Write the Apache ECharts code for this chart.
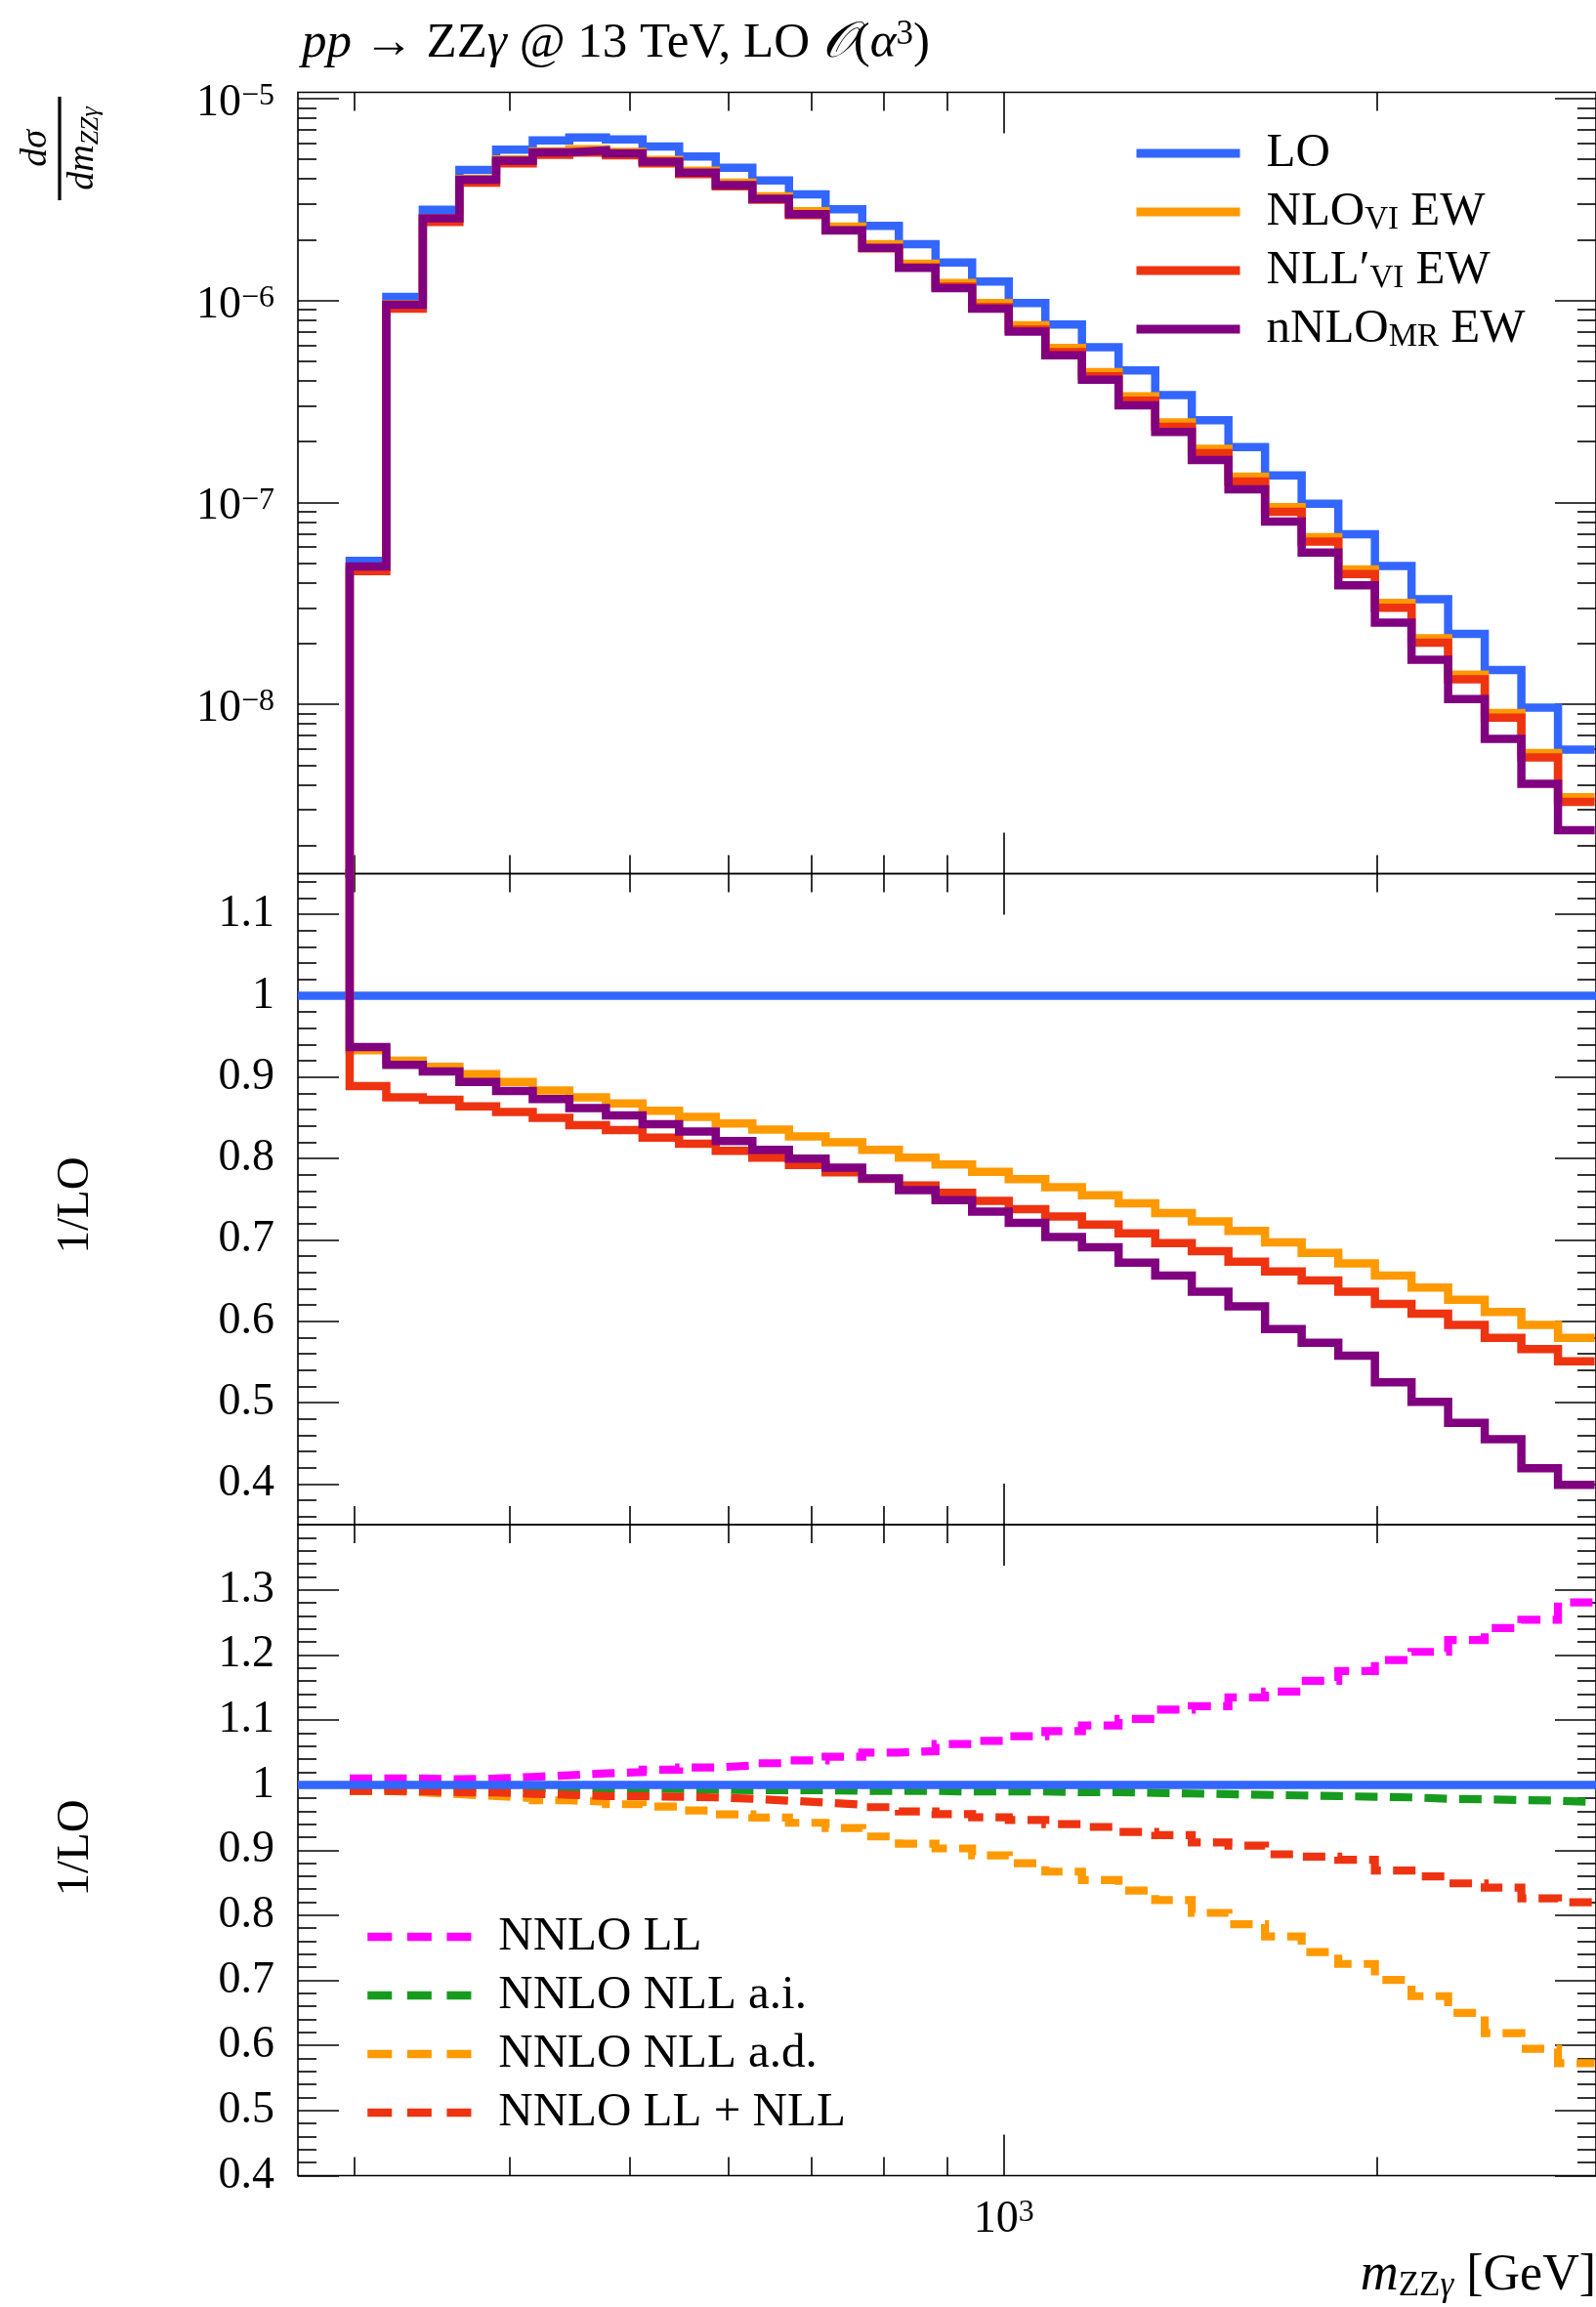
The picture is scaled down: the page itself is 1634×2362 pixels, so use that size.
<!DOCTYPE html>
<html>
<head>
<meta charset="utf-8">
<script src="https://cdn.jsdelivr.net/npm/echarts@6/dist/echarts.min.js"></script>
<style>
html,body{margin:0;padding:0;background:#fff;}
#chart{width:1634px;height:2362px;}
</style>
</head>
<body>
<div id="chart"></div>
<script>
// ---------------- data ----------------
const binEdges = [297.2, 318.1, 340.4, 364.3, 390.0, 417.4, 446.7, 478.1, 511.7, 547.6, 586.1, 627.3, 671.4, 718.6, 769.1, 823.2, 881.1, 943.0, 1009.3, 1080.2, 1156.1, 1237.4, 1324.4, 1417.4, 1517.1, 1623.7, 1737.8, 1860.0, 1990.7, 2130.6, 2280.3, 2440.6, 2612.2, 2795.8, 2992.3];

const loXsec = [5.13e-8, 1.04e-6, 2.81e-6, 4.43e-6, 5.58e-6, 6.20e-6, 6.42e-6, 6.27e-6, 5.78e-6, 5.16e-6, 4.54e-6, 3.93e-6, 3.35e-6, 2.83e-6, 2.34e-6, 1.90e-6, 1.54e-6, 1.24e-6, 9.72e-7, 7.61e-7, 5.86e-7, 4.50e-7, 3.40e-7, 2.55e-7, 1.88e-7, 1.36e-7, 9.84e-8, 6.95e-8, 4.84e-8, 3.31e-8, 2.23e-8, 1.48e-8, 9.63e-9, 5.97e-9];
const nloXsec = [4.79e-8, 9.57e-7, 2.56e-6, 4.00e-6, 4.99e-6, 5.48e-6, 5.62e-6, 5.44e-6, 4.96e-6, 4.39e-6, 3.83e-6, 3.28e-6, 2.77e-6, 2.32e-6, 1.90e-6, 1.52e-6, 1.22e-6, 9.72e-7, 7.53e-7, 5.82e-7, 4.42e-7, 3.35e-7, 2.49e-7, 1.84e-7, 1.34e-7, 9.48e-8, 6.73e-8, 4.66e-8, 3.18e-8, 2.12e-8, 1.40e-8, 9.05e-9, 5.73e-9, 3.46e-9];
const nllXsec = [4.56e-8, 9.10e-7, 2.45e-6, 3.83e-6, 4.78e-6, 5.27e-6, 5.40e-6, 5.24e-6, 4.77e-6, 4.22e-6, 3.68e-6, 3.15e-6, 2.65e-6, 2.22e-6, 1.81e-6, 1.46e-6, 1.17e-6, 9.27e-7, 7.17e-7, 5.55e-7, 4.21e-7, 3.19e-7, 2.37e-7, 1.75e-7, 1.27e-7, 8.99e-8, 6.40e-8, 4.42e-8, 3.01e-8, 2.02e-8, 1.33e-8, 8.58e-9, 5.45e-9, 3.29e-9];
const nnloMrXsec = [4.81e-8, 9.52e-7, 2.55e-6, 3.96e-6, 4.93e-6, 5.41e-6, 5.53e-6, 5.35e-6, 4.87e-6, 4.30e-6, 3.73e-6, 3.19e-6, 2.68e-6, 2.23e-6, 1.82e-6, 1.45e-6, 1.15e-6, 9.11e-7, 7.01e-7, 5.35e-7, 4.05e-7, 3.02e-7, 2.23e-7, 1.62e-7, 1.16e-7, 8.03e-8, 5.64e-8, 3.88e-8, 2.54e-8, 1.66e-8, 1.06e-8, 6.74e-9, 4.04e-9, 2.38e-9];

const nloRatio = [0.933, 0.920, 0.9125, 0.9036, 0.894, 0.8836, 0.875, 0.8676, 0.8587, 0.8512, 0.843, 0.8355, 0.827, 0.820, 0.8105, 0.8009, 0.7925, 0.7836, 0.7746, 0.7647, 0.7547, 0.7448, 0.7328, 0.7228, 0.7109, 0.6970, 0.6840, 0.6711, 0.6562, 0.6413, 0.6263, 0.6114, 0.5954, 0.5796];
const nllRatio = [0.889, 0.875, 0.872, 0.864, 0.857, 0.850, 0.841, 0.835, 0.8255, 0.818, 0.8095, 0.801, 0.792, 0.783, 0.775, 0.7667, 0.7577, 0.7478, 0.7378, 0.7288, 0.7189, 0.7079, 0.6960, 0.6861, 0.6731, 0.6611, 0.6502, 0.6363, 0.6213, 0.6093, 0.5954, 0.5796, 0.5657, 0.5507];
const nnloMrRatio = [0.937, 0.915, 0.907, 0.894, 0.883, 0.873, 0.862, 0.853, 0.842, 0.833, 0.8215, 0.8105, 0.7997, 0.7887, 0.7756, 0.761, 0.7487, 0.7348, 0.7209, 0.7034, 0.6910, 0.6721, 0.6562, 0.6363, 0.6183, 0.5905, 0.5736, 0.5576, 0.5248, 0.5009, 0.4750, 0.4551, 0.4193, 0.3989];

const nnloLL = [1.010, 1.010, 1.009, 1.010, 1.0125, 1.015, 1.018, 1.020, 1.0235, 1.027, 1.030, 1.0335, 1.0377, 1.0435, 1.050, 1.052, 1.063, 1.068, 1.075, 1.083, 1.0916, 1.1015, 1.116, 1.121, 1.1345, 1.1436, 1.160, 1.175, 1.192, 1.2046, 1.2228, 1.241, 1.254, 1.2805];
const nnloNllAI = [0.995, 0.995, 0.995, 0.995, 0.995, 0.995, 0.995, 0.995, 0.994, 0.993, 0.992, 0.992, 0.992, 0.991, 0.991, 0.991, 0.990, 0.990, 0.990, 0.989, 0.989, 0.988, 0.987, 0.986, 0.985, 0.984, 0.983, 0.982, 0.981, 0.979, 0.978, 0.977, 0.976, 0.974];
const nnloNllAD = [0.991, 0.9886, 0.986, 0.983, 0.980, 0.9765, 0.9745, 0.9705, 0.967, 0.961, 0.955, 0.950, 0.942, 0.934, 0.921, 0.910, 0.9026, 0.892, 0.880, 0.867, 0.854, 0.838, 0.8234, 0.8036, 0.7863, 0.7673, 0.7434, 0.7252, 0.7005, 0.6757, 0.650, 0.6188, 0.595, 0.5726];
const nnloLLNLL = [0.991, 0.9906, 0.989, 0.9886, 0.9866, 0.985, 0.983, 0.983, 0.982, 0.981, 0.979, 0.976, 0.973, 0.970, 0.966, 0.9596, 0.9554, 0.9505, 0.9464, 0.940, 0.9356, 0.928, 0.923, 0.9117, 0.9068, 0.8936, 0.890, 0.8853, 0.8688, 0.8597, 0.849, 0.8424, 0.826, 0.820];

// tick positions / labels
const xTickMajor = [1000];
const xTickMinor = [300, 400, 500, 600, 700, 800, 900, 2000];
const xTickLabels = [1000];
const topYMajor = [1e-8, 1e-7, 1e-6, 1e-5];
const topYLabels = [1e-8, 1e-7, 1e-6, 1e-5];
const midYMajor = [0.4, 0.5, 0.6, 0.7, 0.8, 0.9, 1.0, 1.1];
const midYLabels = [0.4, 0.5, 0.6, 0.7, 0.8, 0.9, 1.0, 1.1];
const botYMajor = [0.4, 0.5, 0.6, 0.7, 0.8, 0.9, 1.0, 1.1, 1.2, 1.3];
const botYLabels = [0.4, 0.5, 0.6, 0.7, 0.8, 0.9, 1.0, 1.1, 1.2, 1.3];

// ---------------- helpers ----------------
function logMinor(lo, hi) {
  const out = [];
  for (let e = -10; e <= -4; e++) for (let m = 2; m <= 9; m++) {
    const v = m * Math.pow(10, e);
    if (v > lo && v < hi) out.push(v);
  }
  return out;
}
function linMinor(lo, hi) {
  const out = [];
  for (let k = Math.round(lo * 50); k <= Math.round(hi * 50); k++) {
    if (k % 5 !== 0) out.push(+(k / 50).toFixed(2));
  }
  return out;
}

const SERIF = '"Liberation Serif","DejaVu Serif",serif';
const X_MIN = 270, X_MAX = 3000;
const GRID_LEFT = 305, GRID_WIDTH = 1334;
const panels = [
  {top: 94.5, height: 800, type: 'log', min: 1.449e-9, max: 1.074e-5},
  {top: 894.5, height: 666.5, type: 'value', min: 0.35, max: 1.15},
  {top: 1561, height: 666.5, type: 'value', min: 0.4, max: 1.4}
];
const TICK_MAJ = 42, TICK_MIN = 19;
const tickLine = {color: '#000', width: 1.6};

const C_LO = '#3366ff', C_NLO = '#ff9900', C_NLL = '#ee3311', C_MR = '#800080',
      C_LL = '#ff00ff', C_AI = '#169b1e', C_AD = '#ff9900', C_LLNLL = '#ee3311';
const DASH = [23, 12.5];

const labelRich = {
  b: {fontFamily: SERIF, fontSize: 46, lineHeight: 46, color: '#000'},
  s: {fontFamily: SERIF, fontSize: 32, lineHeight: 18, verticalAlign: 'top', color: '#000'}
};

function xAxesFor(gi, withLabel) {
  const base = {type: 'log', logBase: 10, gridIndex: gi, min: X_MIN, max: X_MAX,
    axisLine: {show: false}, splitLine: {show: false}, axisLabel: {show: false}};
  const out = [];
  ['bottom', 'top'].forEach(pos => {
    const major = Object.assign({}, base, {position: pos,
      axisTick: {show: true, inside: true, length: TICK_MAJ, customValues: xTickMajor, lineStyle: tickLine}});
    if (withLabel && pos === 'bottom') {
      major.axisLabel = {show: true, customValues: xTickLabels, margin: 22,
        formatter: v => '{b|10}{s|' + Math.round(Math.log10(v)) + '}', rich: labelRich};
    }
    out.push(major);
    out.push(Object.assign({}, base, {position: pos,
      axisTick: {show: true, inside: true, length: TICK_MIN, customValues: xTickMinor, lineStyle: tickLine}}));
  });
  return out;
}

function yAxesFor(gi, major, minor, labels, fmt, padding) {
  const p = panels[gi];
  const base = {type: p.type, gridIndex: gi, min: p.min, max: p.max,
    axisLine: {show: false}, splitLine: {show: false}, axisLabel: {show: false}};
  if (p.type === 'log') base.logBase = 10;
  const out = [];
  ['left', 'right'].forEach(pos => {
    const ma = Object.assign({}, base, {position: pos,
      axisTick: {show: true, inside: true, length: TICK_MAJ, customValues: major, lineStyle: tickLine}});
    if (pos === 'left') {
      ma.axisLabel = {show: true, customValues: labels, margin: 24, formatter: fmt,
        fontFamily: SERIF, fontSize: 46, color: '#000', rich: labelRich, padding: padding};
    }
    out.push(ma);
    out.push(Object.assign({}, base, {position: pos,
      axisTick: {show: true, inside: true, length: TICK_MIN, customValues: minor, lineStyle: tickLine}}));
  });
  return out;
}

function stepPts(vals, lead) {
  const pts = [];
  if (lead !== undefined) pts.push([binEdges[0], lead]);
  for (let i = 0; i < vals.length; i++) {
    pts.push([binEdges[i], vals[i]]);
    pts.push([binEdges[i + 1], vals[i]]);
  }
  return pts;
}
function lineSeries(name, color, gi, data, dashed, z) {
  return {type: 'line', name: name, xAxisIndex: gi * 4, yAxisIndex: gi * 4, data: data,
    showSymbol: false, symbol: 'none', silent: true, animation: false, clip: true, z: z,
    lineStyle: {color: color, width: dashed ? 8.2 : 8.5, type: dashed ? DASH : 'solid', cap: 'butt', join: 'miter'},
    itemStyle: {color: color}};
}

const fmtRatio = v => String(Math.round(v * 10) / 10);
const fmtPow = v => '{b|10}{s|−' + Math.round(-Math.log10(v)) + '}';

const xAxis = [].concat(xAxesFor(0, false), xAxesFor(1, false), xAxesFor(2, true));
const yAxis = [].concat(
  yAxesFor(0, topYMajor, logMinor(panels[0].min, panels[0].max), topYLabels, fmtPow, [10, 0, 0, 0]),
  yAxesFor(1, midYMajor, linMinor(0.35, 1.15), midYLabels, fmtRatio, 0),
  yAxesFor(2, botYMajor, linMinor(0.4, 1.4), botYLabels, fmtRatio, 0)
);

const series = [
  // top panel
  lineSeries('LO', C_LO, 0, stepPts(loXsec, 1e-12), false, 2),
  lineSeries('NLO_VI EW', C_NLO, 0, stepPts(nloXsec, 1e-12), false, 3),
  lineSeries("NLL'_VI EW", C_NLL, 0, stepPts(nllXsec, 1e-12), false, 4),
  lineSeries('nNLO_MR EW', C_MR, 0, stepPts(nnloMrXsec, 1e-12), false, 5),
  // middle panel
  lineSeries('LO', C_LO, 1, [[X_MIN, 1], [X_MAX, 1]], false, 2),
  lineSeries('NLO_VI EW', C_NLO, 1, stepPts(nloRatio, 5), false, 3),
  lineSeries("NLL'_VI EW", C_NLL, 1, stepPts(nllRatio, 5), false, 4),
  lineSeries('nNLO_MR EW', C_MR, 1, stepPts(nnloMrRatio, 5), false, 5),
  // bottom panel
  lineSeries('NNLO LL', C_LL, 2, stepPts(nnloLL), true, 2),
  lineSeries('NNLO NLL a.i.', C_AI, 2, stepPts(nnloNllAI), true, 3),
  lineSeries('NNLO NLL a.d.', C_AD, 2, stepPts(nnloNllAD), true, 4),
  lineSeries('NNLO LL + NLL', C_LLNLL, 2, stepPts(nnloLLNLL), true, 5),
  lineSeries('LO', C_LO, 2, [[X_MIN, 1], [X_MAX, 1]], false, 6)
];

const legendNames = {
  'LO': 'LO',
  'NLO_VI EW': 'NLO{sub|VI} EW',
  "NLL'_VI EW": 'NLL′{sub|VI} EW',
  'nNLO_MR EW': 'nNLO{sub|MR} EW'
};
const legendText = {
  fontFamily: SERIF, fontSize: 49, color: '#000', lineHeight: 50, padding: [0, 0, 0, 22],
  rich: {sub: {fontFamily: SERIF, fontSize: 33, lineHeight: 22, verticalAlign: 'bottom', color: '#000'}}
};

const option = {
  animation: false,
  backgroundColor: '#fff',
  grid: panels.map(p => ({left: GRID_LEFT, top: p.top, width: GRID_WIDTH, height: p.height,
    show: true, borderColor: '#000', borderWidth: 1.6, backgroundColor: 'transparent', containLabel: false})),
  xAxis: xAxis,
  yAxis: yAxis,
  legend: [
    {orient: 'vertical', left: 1159, top: 132, padding: 0, itemWidth: 106, itemHeight: 20, itemGap: 10,
     selectedMode: false, data: ['LO', 'NLO_VI EW', "NLL'_VI EW", 'nNLO_MR EW'],
     formatter: n => legendNames[n], textStyle: legendText,
     lineStyle: {width: 9, type: 'solid', cap: 'butt'}, itemStyle: {color: 'rgba(0,0,0,0)', borderWidth: 0}},
    {orient: 'vertical', left: 372, top: 1958, padding: 0, itemWidth: 107, itemHeight: 20, itemGap: 10,
     selectedMode: false, data: ['NNLO LL', 'NNLO NLL a.i.', 'NNLO NLL a.d.', 'NNLO LL + NLL'],
     textStyle: legendText,
     lineStyle: {width: 8.5, type: [25, 15.6], cap: 'butt'}, itemStyle: {color: 'rgba(0,0,0,0)', borderWidth: 0}}
  ],
  graphic: [
    {type: 'text', x: 309, y: 45, style: {
      text: '{i|pp} → ZZ{i|γ} @ 13 TeV, LO {c|𝒪}({i|α}{s|3})',
      fontFamily: SERIF, fontSize: 51, fill: '#000', lineHeight: 54, align: 'left', verticalAlign: 'middle',
      rich: {
        i: {fontFamily: SERIF, fontStyle: 'italic', fontSize: 51, lineHeight: 54},
        c: {fontFamily: SERIF, fontStyle: 'italic', fontSize: 51, lineHeight: 54},
        s: {fontFamily: SERIF, fontSize: 35, lineHeight: 26, verticalAlign: 'top'}
      }}},
    {type: 'group', x: 61, y: 152, rotation: Math.PI / 2, children: [
      {type: 'line', shape: {x1: -53, y1: 0, x2: 53, y2: 0}, style: {stroke: '#000', lineWidth: 3.3}},
      {type: 'text', x: 0, y: -5, style: {text: 'dσ', fontFamily: SERIF, fontStyle: 'italic', fontSize: 38,
        fill: '#000', align: 'center', verticalAlign: 'bottom'}},
      {type: 'text', x: 0, y: 3, style: {text: '{i|dm}{s|ZZγ}', fontFamily: SERIF, fontSize: 38, lineHeight: 42,
        fill: '#000', align: 'center', verticalAlign: 'top',
        rich: {i: {fontFamily: SERIF, fontStyle: 'italic', fontSize: 38, lineHeight: 42},
               s: {fontFamily: SERIF, fontStyle: 'italic', fontSize: 26, lineHeight: 20, verticalAlign: 'bottom'}}}}
    ]},
    {type: 'text', x: 78, y: 1234, rotation: Math.PI / 2, style: {text: '1/LO', fontFamily: SERIF, fontSize: 47,
      fill: '#000', align: 'center', verticalAlign: 'middle'}},
    {type: 'text', x: 78, y: 1892, rotation: Math.PI / 2, style: {text: '1/LO', fontFamily: SERIF, fontSize: 47,
      fill: '#000', align: 'center', verticalAlign: 'middle'}},
    {type: 'text', x: 1634, y: 2330, style: {
      text: '{i|m}{s|ZZ}{si|γ} [GeV]', fontFamily: SERIF, fontSize: 52, lineHeight: 56, fill: '#000',
      align: 'right', verticalAlign: 'middle',
      rich: {i: {fontFamily: SERIF, fontStyle: 'italic', fontSize: 54, lineHeight: 56},
             s: {fontFamily: SERIF, fontSize: 35, lineHeight: 22, verticalAlign: 'bottom'},
             si: {fontFamily: SERIF, fontStyle: 'italic', fontSize: 35, lineHeight: 22, verticalAlign: 'bottom'}}}}
  ],
  series: series
};

const chart = echarts.init(document.getElementById('chart'), null, {renderer: 'canvas'});
chart.setOption(option);
</script>
</body>
</html>
